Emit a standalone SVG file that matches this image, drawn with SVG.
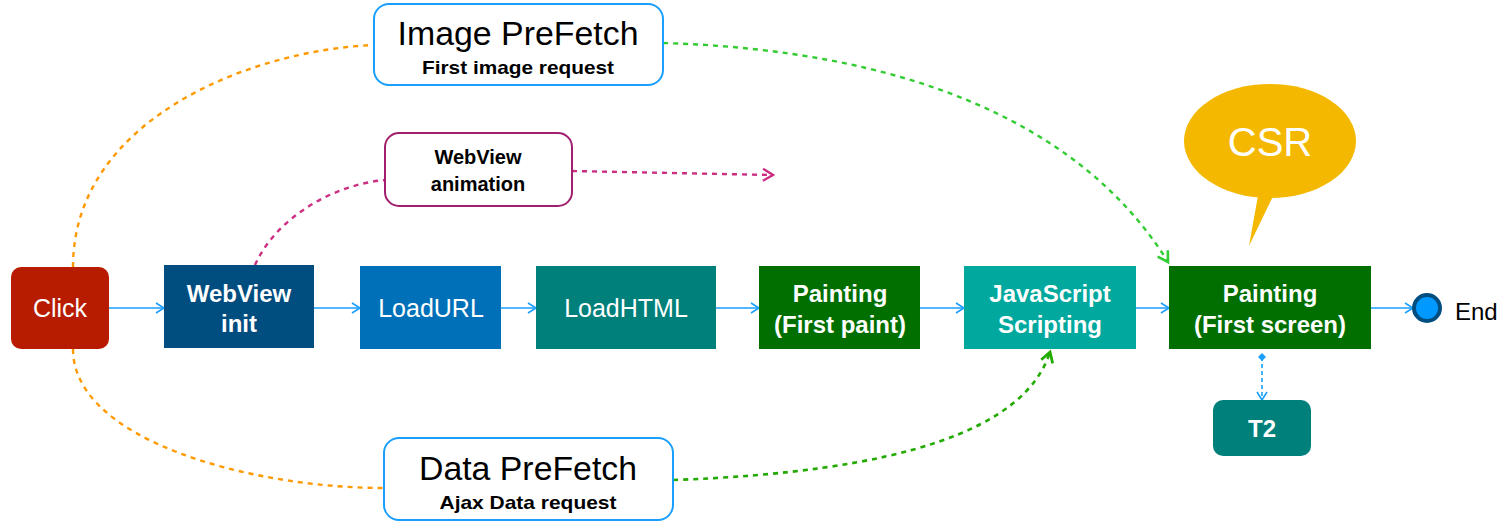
<svg xmlns="http://www.w3.org/2000/svg" width="1508" height="532" viewBox="0 0 1508 532">
<style>
text{font-family:"Liberation Sans",Arial,sans-serif}
.w{fill:#fff;font-size:25px;text-anchor:middle}
.b{font-weight:bold;font-size:24px}
.flow{fill:none;stroke:#1a9fff;stroke-width:1.6}
.or{fill:none;stroke:#ff9900;stroke-width:2.4;stroke-dasharray:5 5}
.gr{fill:none;stroke:#33cc33;stroke-width:2.4;stroke-dasharray:5 5}
.gr2{fill:none;stroke:#22aa00;stroke-width:2.6;stroke-dasharray:5 5}
.mg{fill:none;stroke:#cc2f82;stroke-width:2.4;stroke-dasharray:5 5}
.box{fill:#fff;stroke:#1a9fff;stroke-width:2}
.k{fill:#000;text-anchor:middle}
.kb{fill:#000;text-anchor:middle;font-weight:bold}
</style>
<defs>
<marker id="ab" markerWidth="12" markerHeight="12" refX="10" refY="6" orient="auto" markerUnits="userSpaceOnUse"><path d="M2,1 L10,6 L2,11" fill="none" stroke="#1a9fff" stroke-width="1.6"/></marker>
<marker id="ag" markerWidth="16" markerHeight="16" refX="13" refY="8" orient="auto" markerUnits="userSpaceOnUse"><path d="M3,2 L13,8 L3,14" fill="none" stroke="#33cc33" stroke-width="2.6"/></marker>
<marker id="ag2" markerWidth="16" markerHeight="16" refX="13" refY="8" orient="auto" markerUnits="userSpaceOnUse"><path d="M3,2 L13,8 L3,14" fill="none" stroke="#22aa00" stroke-width="2.8"/></marker>
<marker id="am" markerWidth="16" markerHeight="16" refX="13" refY="8" orient="auto" markerUnits="userSpaceOnUse"><path d="M3,2 L13,8 L3,14" fill="none" stroke="#cc2f82" stroke-width="2.4"/></marker>
<marker id="ad" markerWidth="10" markerHeight="10" refX="5" refY="5" orient="auto" markerUnits="userSpaceOnUse"><path d="M1,5 L5,1 L9,5 L5,9Z" fill="#1a9fff"/></marker>
</defs>
<g id="connectors">
<path class="or" d="M73,267 C73,120 250,50 374,45"/>
<path class="or" d="M73,349 C73,440 250,488 384,488"/>
<path class="gr" d="M663,43 C900,50 1080,120 1168,262" marker-end="url(#ag)"/>
<path class="gr2" d="M673,480 C900,472 1025,430 1050,352" marker-end="url(#ag2)"/>
<path class="mg" d="M255,265 C275,220 330,185 385,180"/>
<path class="mg" d="M572,171 L773,175" marker-end="url(#am)"/>
<path class="flow" d="M109,308 L164,308" marker-end="url(#ab)"/>
<path class="flow" d="M314,308 L360,308" marker-end="url(#ab)"/>
<path class="flow" d="M501,308 L536,308" marker-end="url(#ab)"/>
<path class="flow" d="M716,308 L759,308" marker-end="url(#ab)"/>
<path class="flow" d="M920,308 L964,308" marker-end="url(#ab)"/>
<path class="flow" d="M1136,308 L1169,308" marker-end="url(#ab)"/>
<path class="flow" d="M1371,308 L1413,308" marker-end="url(#ab)"/>
<path class="flow" d="M1262,357 L1262,400" stroke-dasharray="4 3" marker-start="url(#ad)" marker-end="url(#ab)"/>
</g>
<g id="click"><rect x="11" y="267" width="98" height="82" rx="10" fill="#b71c00"/><text class="w" x="60" y="317" font-size="26">Click</text></g>
<g id="webview-init"><rect x="164" y="265" width="150" height="83" fill="#004d80"/><text class="w b" x="239" y="302">WebView</text><text class="w b" x="239" y="332">init</text></g>
<g id="loadurl"><rect x="360" y="266" width="141" height="83" fill="#0070b8"/><text class="w" x="431" y="317">LoadURL</text></g>
<g id="loadhtml"><rect x="536" y="266" width="180" height="83" fill="#00807a"/><text class="w" x="626" y="317">LoadHTML</text></g>
<g id="painting-first-paint"><rect x="759" y="266" width="161" height="83" fill="#006f00"/><text class="w b" x="840" y="302">Painting</text><text class="w b" x="840" y="333">(First paint)</text></g>
<g id="js-scripting"><rect x="964" y="266" width="172" height="83" fill="#00a89d"/><text class="w b" x="1050" y="302">JavaScript</text><text class="w b" x="1050" y="333">Scripting</text></g>
<g id="painting-first-screen"><rect x="1169" y="266" width="202" height="83" fill="#006f00"/><text class="w b" x="1270" y="302">Painting</text><text class="w b" x="1270" y="333">(First screen)</text></g>
<g id="end"><circle cx="1427" cy="308" r="13" fill="#0099ff" stroke="#004d80" stroke-width="4"/><text x="1455" y="320" font-size="24" fill="#000">End</text></g>
<g id="t2"><rect x="1213" y="400" width="98" height="56" rx="10" fill="#00807a"/><text class="w b" x="1262" y="437" font-size="25">T2</text></g>
<g id="csr"><ellipse cx="1270" cy="141" rx="86" ry="57" fill="#f5b800"/><path d="M1259,190 L1249,246 L1276,190Z" fill="#f5b800"/><text x="1270" y="156" font-size="40" fill="#fff" text-anchor="middle">CSR</text></g>
<g id="image-prefetch"><rect class="box" x="374" y="4" width="289" height="81" rx="15"/><text class="k" x="518" y="45" font-size="33" textLength="241" lengthAdjust="spacingAndGlyphs">Image PreFetch</text><text class="kb" x="518" y="74" font-size="19" textLength="192" lengthAdjust="spacingAndGlyphs">First image request</text></g>
<g id="webview-animation"><rect x="385" y="133" width="187" height="73" rx="14" fill="#fff" stroke="#a0206e" stroke-width="2"/><text class="kb" x="478" y="164" font-size="20">WebView</text><text class="kb" x="478" y="191" font-size="20">animation</text></g>
<g id="data-prefetch"><rect class="box" x="384" y="438" width="289" height="82" rx="15"/><text class="k" x="528" y="480" font-size="33" textLength="218" lengthAdjust="spacingAndGlyphs">Data PreFetch</text><text class="kb" x="528" y="509" font-size="19" textLength="177" lengthAdjust="spacingAndGlyphs">Ajax Data request</text></g>
</svg>
